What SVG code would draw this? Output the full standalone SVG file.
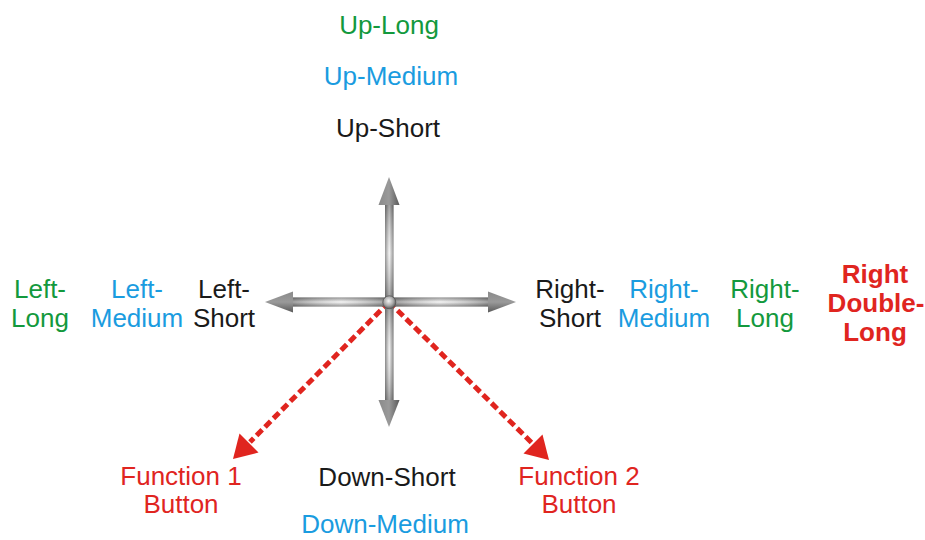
<svg xmlns="http://www.w3.org/2000/svg" width="925" height="540" viewBox="0 0 925 540">
<defs>
<style>
text{font-family:"Liberation Sans",Arial,sans-serif;font-size:26px;text-anchor:middle}
.k{fill:#1a1a1a}.b{fill:#1a9ce0}.g{fill:#13993d}.r{fill:#e0251f}.rb{fill:#e0251f;font-weight:bold}
.dash{stroke:#e0251f;stroke-width:5;stroke-dasharray:8 4;fill:none}
.head{fill:#e0251f}
</style>
<linearGradient id="vsh" x1="0" y1="0" x2="1" y2="0">
<stop offset="0" stop-color="#6a6a6a"/><stop offset="0.5" stop-color="#f2f2f2"/><stop offset="1" stop-color="#6a6a6a"/>
</linearGradient>
<linearGradient id="hsh" x1="0" y1="0" x2="0" y2="1">
<stop offset="0" stop-color="#6a6a6a"/><stop offset="0.5" stop-color="#f2f2f2"/><stop offset="1" stop-color="#6a6a6a"/>
</linearGradient>
<linearGradient id="vlen" x1="0" y1="0" x2="0" y2="1">
<stop offset="0" stop-color="#555" stop-opacity="0.5"/><stop offset="0.25" stop-color="#fff" stop-opacity="0.3"/><stop offset="0.5" stop-color="#444" stop-opacity="0.5"/><stop offset="0.75" stop-color="#fff" stop-opacity="0.2"/><stop offset="1" stop-color="#555" stop-opacity="0.5"/>
</linearGradient>
<linearGradient id="hlen" x1="0" y1="0" x2="1" y2="0">
<stop offset="0" stop-color="#555" stop-opacity="0.5"/><stop offset="0.25" stop-color="#fff" stop-opacity="0.3"/><stop offset="0.5" stop-color="#444" stop-opacity="0.5"/><stop offset="0.75" stop-color="#fff" stop-opacity="0.3"/><stop offset="1" stop-color="#555" stop-opacity="0.5"/>
</linearGradient>
<linearGradient id="ahv" x1="0" y1="0" x2="1" y2="0">
<stop offset="0" stop-color="#8a8a8a"/><stop offset="0.5" stop-color="#9a9a9a"/><stop offset="1" stop-color="#5a5a5a"/>
</linearGradient>
<linearGradient id="ahh" x1="0" y1="0" x2="0" y2="1">
<stop offset="0" stop-color="#8a8a8a"/><stop offset="0.5" stop-color="#9a9a9a"/><stop offset="1" stop-color="#5a5a5a"/>
</linearGradient>
<radialGradient id="hub" cx="0.45" cy="0.4" r="0.6">
<stop offset="0" stop-color="#f4f4f4"/><stop offset="0.6" stop-color="#a8a8a8"/><stop offset="1" stop-color="#5a5a5a"/>
</radialGradient>
</defs>

<g id="connectors">
<line class="dash" x1="389" y1="302" x2="250" y2="442"/>
<polygon class="head" points="233,459 239.5,433.5 258.5,452.5"/>
<line class="dash" x1="389" y1="302" x2="532" y2="443"/>
<polygon class="head" points="549,460 523.5,453.5 542.5,434.5"/>
</g>

<g id="joystick">
<rect x="385" y="204" width="8.5" height="197" fill="url(#vsh)"/>
<rect x="385" y="204" width="8.5" height="197" fill="url(#vlen)"/>
<rect x="292" y="297.5" width="197" height="9" fill="url(#hsh)"/>
<rect x="292" y="297.5" width="197" height="9" fill="url(#hlen)"/>
<polygon points="389,177 399.5,205 378.5,205" fill="url(#ahv)"/>
<polygon points="389,427 399.5,400 378.5,400" fill="url(#ahv)"/>
<polygon points="265,302 293,291.5 293,312.5" fill="url(#ahh)"/>
<polygon points="516,302 488,291.5 488,312.5" fill="url(#ahh)"/>
<circle cx="389.3" cy="302.3" r="6.5" fill="url(#hub)" stroke="#555" stroke-width="0.8"/>
</g>

<g id="up-long"><text class="g" x="389" y="34">Up-Long</text></g>
<g id="up-medium"><text class="b" x="391" y="85">Up-Medium</text></g>
<g id="up-short"><text class="k" x="388" y="137">Up-Short</text></g>

<g id="left-long"><text class="g" x="40" y="298">Left-</text><text class="g" x="40" y="327">Long</text></g>
<g id="left-medium"><text class="b" x="137" y="298">Left-</text><text class="b" x="137" y="327">Medium</text></g>
<g id="left-short"><text class="k" x="224" y="298">Left-</text><text class="k" x="224" y="327">Short</text></g>

<g id="right-short"><text class="k" x="570" y="298">Right-</text><text class="k" x="570" y="327">Short</text></g>
<g id="right-medium"><text class="b" x="664" y="298">Right-</text><text class="b" x="664" y="327">Medium</text></g>
<g id="right-long"><text class="g" x="765" y="298">Right-</text><text class="g" x="765" y="327">Long</text></g>
<g id="right-double-long"><text class="rb" x="875" y="283">Right</text><text class="rb" x="876" y="312">Double-</text><text class="rb" x="875" y="341">Long</text></g>

<g id="function-1"><text class="r" x="181" y="485">Function 1</text><text class="r" x="181" y="513">Button</text></g>
<g id="down-short"><text class="k" x="387" y="486">Down-Short</text></g>
<g id="function-2"><text class="r" x="579" y="485">Function 2</text><text class="r" x="579" y="513">Button</text></g>
<g id="down-medium"><text class="b" x="385" y="533">Down-Medium</text></g>
</svg>
